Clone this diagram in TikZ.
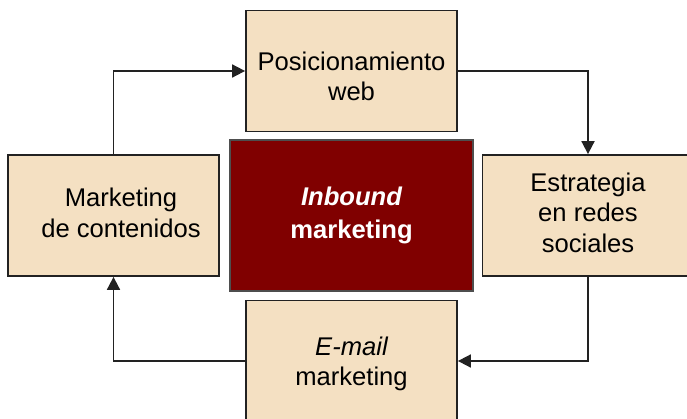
\documentclass[tikz,border=0pt]{standalone}
\usepackage{fontspec}
\setmainfont{Liberation Sans}
\usetikzlibrary{arrows.meta}
\definecolor{boxfill}{HTML}{F4E0C2}
\definecolor{corered}{HTML}{800000}
\definecolor{edge}{HTML}{222222}
\begin{document}
\begin{tikzpicture}[x=1pt,y=-1pt,
  stagebox/.style={draw=edge, line width=1.8pt, fill=boxfill, inner sep=0pt,
    minimum width=211pt, minimum height=121pt},
  stagetext/.style={inner sep=0pt, align=center,
    font=\fontsize{25.6}{30.5}\selectfont, text=black},
  corebox/.style={draw=edge!80, line width=1.8pt, fill=corered, inner sep=0pt,
    minimum width=243pt, minimum height=151pt, align=center,
    font=\fontsize{25.6}{33}\selectfont\bfseries, text=white},
  flow/.style={draw=edge, line width=1.8pt,
    -{Triangle[length=13pt,width=13pt]}}]
\useasboundingbox (0,0) rectangle (687,419);

% the four stages around the core
\node[stagebox] (web) at (351.5,71) {};
\node[stagebox] (cont) at (113.5,215.5) {};
\node[stagebox] (redes) at (588,215.5) {};
\node[stagebox] (mail) at (351.5,361) {};

\node[stagetext] (weblabel) at ([shift={(0,5.3)}]web.center) {Posicionamiento\\web};
\node[stagetext] (contlabel) at ([shift={(7.5,-2.6)}]cont.center) {Marketing\\de contenidos};
\node[stagetext] (redeslabel) at ([shift={(0,-2.7)}]redes.center) {Estrategia\\en redes\\sociales};
\node[stagetext] (maillabel) at ([shift={(0,3.1)}]mail.center) {\itshape E-mail\\marketing};

% core
\node[corebox] (core) at (351.5,215.5) {\itshape Inbound\\marketing};

% cycle
\draw[flow] (cont.north) |- (web.west);
\draw[flow] (web.east) -| (redes.north);
\draw[flow] (redes.south) |- (mail.east);
\draw[flow] (mail.west) -| (cont.south);
\end{tikzpicture}
\end{document}
